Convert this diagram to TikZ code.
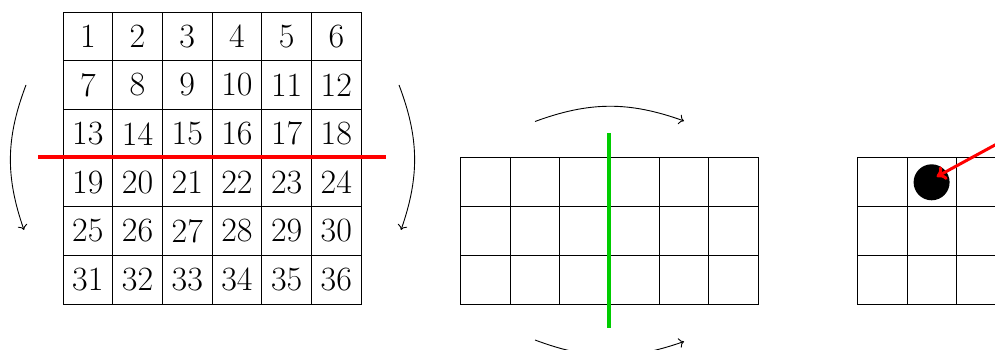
\documentclass[tikz,border=0pt]{standalone}
\usetikzlibrary{arrows.meta}
\definecolor{myred}{RGB}{255,0,0}
\definecolor{mygreen}{RGB}{0,204,0}
\tikzset{
  cellA/.style={draw, line width=0.9pt, minimum width=49.7pt, minimum height=48.67pt, inner sep=0pt, font=\fontsize{34}{40}\selectfont},
  cellB/.style={draw, line width=0.9pt, minimum width=49.6pt, minimum height=48.8pt, inner sep=0pt},
  flip/.style={-{To[length=5pt,width=10pt]}, line width=0.9pt},
}
\begin{document}
\begin{tikzpicture}[x=1pt,y=1pt]
\useasboundingbox (0,0) rectangle (995,350);
\clip (0,0) rectangle (995,350);
% grid 1 with numbers
\foreach \r in {0,...,5}{
  \foreach \c in {0,...,5}{
    \pgfmathtruncatemacro{\n}{\r*6+\c+1}
    \node[cellA] (a\r\c) at ({63+49.7*(\c+0.5)},{338-48.67*(\r+0.5)}) {\n};
  }
}
% grid 2
\foreach \r in {0,...,2}{
  \foreach \c in {0,...,5}{
    \node[cellB] (b\r\c) at ({460.7+49.6*(\c+0.5)},{192.3-48.8*(\r+0.5)}) {};
  }
}
% grid 3
\foreach \r in {0,...,2}{
  \foreach \c in {0,...,5}{
    \node[cellB] (c\r\c) at ({857.5+49.6*(\c+0.5)},{192.3-48.8*(\r+0.5)}) {};
  }
}
% red cut line
\coordinate (rl) at (38,193);
\coordinate (rr) at (386,193);
\draw[myred, line width=4pt] (rl) -- (rr);
% left/right flip arrows
\coordinate (l1) at (26,265);
\coordinate (l2) at (24,120);
\coordinate (r1) at (399,265);
\coordinate (r2) at (401,120);
\draw[flip] (l1) to[bend right=20] (l2);
\draw[flip] (r1) to[bend left=20] (r2);
% green cut line
\coordinate (gt) at (609,217);
\coordinate (gb) at (609,21.5);
\draw[mygreen, line width=4pt] (gt) -- (gb);
% top/bottom arrows
\coordinate (t1) at (535,228.5);
\coordinate (t2) at (684,229);
\coordinate (u1) at (535,10);
\coordinate (u2) at (684,8.5);
\draw[flip] (t1) to[bend left=20] (t2);
\draw[flip] (u1) to[bend right=20] (u2);
% dot and red arrow
\node[circle, fill=black, minimum size=36pt, inner sep=0pt] (dot) at (931.6,167.7) {};
\coordinate (as) at (1010.6,213.5);
\coordinate (at) at (936.7,173.3);
\draw[myred, line width=3pt, -{To[length=9pt,width=15pt]}] (as) -- (at);
\end{tikzpicture}
\end{document}
